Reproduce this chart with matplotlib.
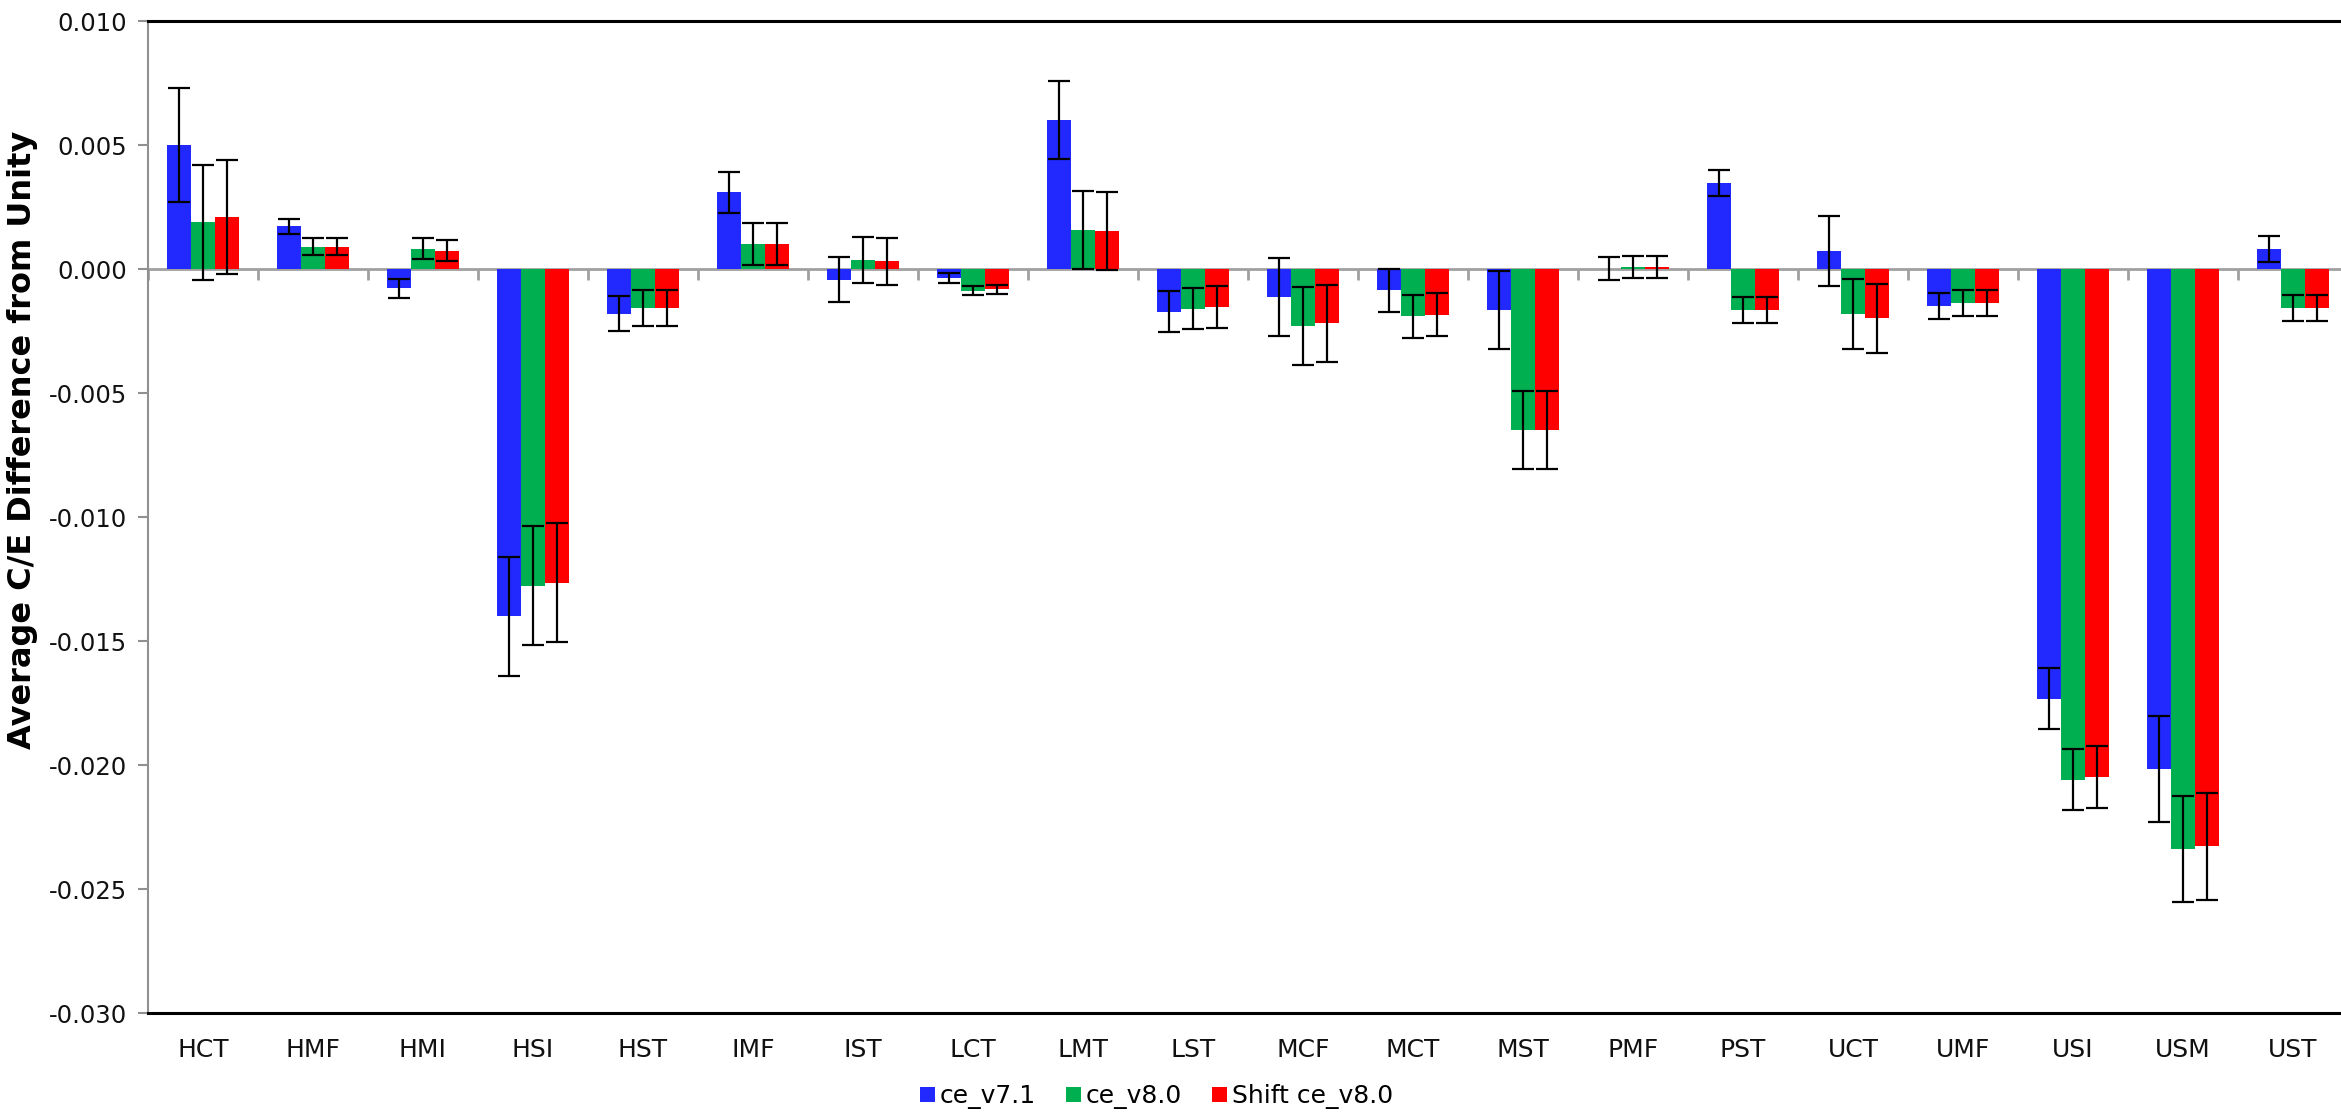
#!/usr/bin/env python3

import numpy as np
import matplotlib
matplotlib.use('Agg')
import matplotlib.pyplot as plt
from matplotlib.markers import TICKDOWN

categories = ['HCT', 'HMF', 'HMI', 'HSI', 'HST', 'IMF', 'IST', 'LCT', 'LMT', 'LST',
	'MCF', 'MCT', 'MST', 'PMF', 'PST', 'UCT', 'UMF', 'USI', 'USM', 'UST']

series_names = ['ce_v7.1', 'ce_v8.0', 'Shift ce_v8.0']

ce_v71 = [0.0050, 0.00173, -0.00078, -0.0140, -0.00179, 0.00309, -0.00042, -0.00036, 0.0060, -0.00171,
	-0.00112, -0.00086, -0.00164, 0.00002, 0.00348, 0.00075, -0.00148, -0.01731, -0.02015, 0.00081]
ce_v71_err = [0.0023, 0.0003, 0.0004, 0.0024, 0.00072, 0.00083, 0.00092, 0.0002, 0.00158, 0.00083,
	0.00158, 0.00088, 0.00157, 0.00046, 0.00052, 0.00141, 0.00052, 0.00124, 0.00214, 0.00053]

ce_v80 = [0.00188, 0.0009, 0.00083, -0.01276, -0.00156, 0.00101, 0.00036, -0.00087, 0.00156, -0.00159,
	-0.00231, -0.0019, -0.00649, 0.00008, -0.00164, -0.00181, -0.00136, -0.02058, -0.02336, -0.00156]
ce_v80_err = [0.0023, 0.00034, 0.00043, 0.0024, 0.00072, 0.00086, 0.00092, 0.00018, 0.00157, 0.00083,
	0.00157, 0.00087, 0.00157, 0.00045, 0.00052, 0.0014, 0.00052, 0.00123, 0.00214, 0.00052]

shift_v80 = [0.0021, 0.0009, 0.00075, -0.01264, -0.00156, 0.00101, 0.00031, -0.00082, 0.00153, -0.00153,
	-0.00219, -0.00183, -0.00649, 0.00008, -0.00164, -0.00198, -0.00136, -0.02048, -0.02327, -0.00158]
shift_v80_err = [0.0023, 0.00034, 0.00043, 0.0024, 0.00072, 0.00084, 0.00093, 0.00018, 0.00157, 0.00083,
	0.00157, 0.00087, 0.00157, 0.00045, 0.00052, 0.0014, 0.00052, 0.00124, 0.00214, 0.00053]

colors = ['#2229FF', '#00B050', '#FF0000']

y_ticks = [0.010, 0.005, 0.000, -0.005, -0.010, -0.015, -0.020, -0.025, -0.030]


def main():
	plt.rcParams['font.family'] = ['DejaVu Sans']
	plt.rcParams['axes.unicode_minus'] = False

	fig = plt.figure(figsize=(23.41, 11.18), dpi=100)
	ax = fig.add_axes([0.0632, 0.0935, 0.9398, 0.8877])

	x = np.arange(len(categories))
	width = 0.22
	values = [ce_v71, ce_v80, shift_v80]
	errors = [ce_v71_err, ce_v80_err, shift_v80_err]

	for i, (vals, errs) in enumerate(zip(values, errors)):
		ax.bar(x + (i - 1) * width, vals, width, color=colors[i], label=series_names[i],
			edgecolor='none', zorder=2)
		ax.errorbar(x + (i - 1) * width, vals, yerr=errs, fmt='none', ecolor='black',
			elinewidth=1.6, capsize=8, capthick=1.6, zorder=3)

	ax.set_xlim(-0.5, len(categories) - 0.5)
	ax.set_ylim(-0.030, 0.010)
	ax.set_yticks(y_ticks)
	ax.set_yticklabels([f'{v:.3f}' for v in y_ticks])
	ax.set_xticks(x)
	ax.set_xticklabels(categories)

	# zero line with category separators
	ax.axhline(0, color='#A0A0A0', lw=2, zorder=1)
	bounds = np.arange(len(categories) + 1) - 0.5
	ax.plot(bounds, np.zeros_like(bounds), ls='none', marker=TICKDOWN, markersize=8,
		mew=2, color='#A0A0A0', zorder=1, clip_on=False)

	ax.tick_params(axis='y', direction='out', length=7, width=1.5, color='#909090',
		labelsize=17.5, pad=8, labelcolor='#111111')
	ax.tick_params(axis='x', length=0, labelsize=18, pad=18, labelcolor='#111111')

	for side in ['top', 'bottom']:
		ax.spines[side].set_color('black')
		ax.spines[side].set_linewidth(2.2)
	ax.spines['left'].set_color('#909090')
	ax.spines['left'].set_linewidth(1.5)
	ax.spines['right'].set_visible(False)

	ax.set_ylabel('Average C/E Difference from Unity', fontsize=23, fontweight='bold')
	ax.yaxis.set_label_coords(-0.05, 0.578)

	fig.legend(loc='center', bbox_to_anchor=(0.494, 0.019), ncol=3, frameon=False,
		fontsize=18, handlelength=0.6, handleheight=0.6, handletextpad=0.2,
		columnspacing=1.2)

	fig.savefig('out.png', dpi=100)


if __name__ == "__main__":
	main()
